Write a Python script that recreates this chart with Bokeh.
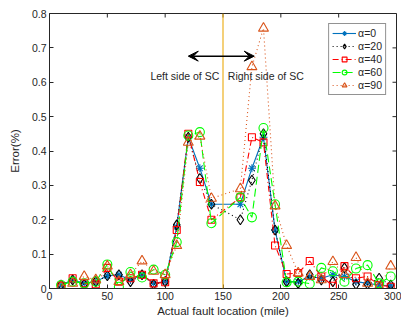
from bokeh.plotting import figure
from bokeh.models import (FixedTicker, Span, Arrow, VeeHead, Label,
                          Legend, LegendItem, Range1d)
from bokeh.embed import file_html
from bokeh.resources import INLINE

x = [10, 20, 30, 40, 50, 60, 70, 80, 90, 100, 110, 120, 130, 140,
     165, 175, 185, 195, 205, 215, 225, 235, 245, 255, 265, 275, 285, 295]

a0 = [0.010, 0.025, 0.015, 0.020, 0.037, 0.040, 0.025, 0.040, 0.015, 0.020, 0.180, 0.440, 0.350, 0.245,
      0.245, 0.350, 0.440, 0.170, 0.020, 0.020, 0.035, 0.030, 0.040, 0.035, 0.020, 0.015, 0.010, 0.008]
a20 = [0.010, 0.025, 0.012, 0.020, 0.037, 0.040, 0.020, 0.040, 0.012, 0.020, 0.185, 0.440, 0.320, 0.245,
       0.200, 0.315, 0.450, 0.170, 0.020, 0.015, 0.040, 0.025, 0.020, 0.060, 0.012, 0.012, 0.030, 0.010]
a40 = [0.008, 0.030, 0.015, 0.012, 0.060, 0.020, 0.030, 0.040, 0.015, 0.018, 0.170, 0.450, 0.310, 0.200,
       0.265, 0.440, 0.425, 0.125, 0.042, 0.045, 0.080, 0.035, 0.008, 0.065, 0.030, 0.035, 0.010, 0.005]
a60 = [0.010, 0.020, 0.015, 0.020, 0.070, 0.005, 0.048, 0.032, 0.055, 0.040, 0.135, 0.445, 0.455, 0.190,
       0.265, 0.207, 0.467, 0.245, 0.018, 0.020, 0.014, 0.060, 0.050, 0.020, 0.058, 0.068, 0.015, 0.035]
a90 = [0.005, 0.015, 0.035, 0.025, 0.065, 0.020, 0.040, 0.080, 0.050, 0.040, 0.125, 0.425, 0.443, 0.262,
       0.290, 0.645, 0.757, 0.240, 0.125, 0.045, 0.035, 0.025, 0.078, 0.040, 0.090, 0.015, 0.005, 0.065]

labels = ["α=0", "α=20", "α=40", "α=60", "α=90"]
xticks = [0, 50, 100, 150, 200, 250, 300]
yticks = [0, 0.1, 0.2, 0.3, 0.4, 0.5, 0.6, 0.7, 0.8]
ytick_labels = ["0", "0.1", "0.2", "0.3", "0.4", "0.5", "0.6", "0.7", "0.8"]

FONT = "Liberation Sans"
AX = "#262626"
XMIN, XMAX, YMIN, YMAX = 0, 300, 0, 0.8
FW, FH = 347, 275

p = figure(frame_width=FW, frame_height=FH, output_backend="svg", toolbar_location=None,
           x_range=Range1d(XMIN, XMAX), y_range=Range1d(YMIN, YMAX),
           min_border_left=49, min_border_right=5, min_border_top=13, min_border_bottom=30)
p.xgrid.visible = False
p.ygrid.visible = False
p.outline_line_color = AX
p.outline_line_width = 1

for ax in (p.xaxis[0], p.yaxis[0]):
    ax.major_tick_in = 4
    ax.major_tick_out = 0
    ax.minor_tick_in = 0
    ax.minor_tick_out = 0
    ax.axis_line_color = AX
    ax.major_tick_line_color = AX
    ax.major_label_text_font = FONT
    ax.major_label_text_font_size = "10.5px"
    ax.major_label_text_color = AX
    ax.axis_label_text_font = FONT
    ax.axis_label_text_font_size = "11.5px"
    ax.axis_label_text_font_style = "normal"
    ax.axis_label_text_color = AX
    ax.major_label_standoff = 3

p.xaxis[0].ticker = FixedTicker(ticks=xticks)
p.yaxis[0].ticker = FixedTicker(ticks=yticks)
p.yaxis[0].major_label_overrides = {v: s for v, s in zip(yticks, ytick_labels)}
p.xaxis[0].axis_label = "Actual fault location (mile)"
p.yaxis[0].axis_label = "Error(%)"
p.xaxis[0].axis_label_standoff = 2
p.yaxis[0].axis_label_standoff = 8

# inward ticks on the top and right edges of the box
tick_dy = (YMAX - YMIN) * 4 / FH
tick_dx = (XMAX - XMIN) * 4 / FW
p.segment(x0=xticks, y0=[YMAX] * len(xticks), x1=xticks, y1=[YMAX - tick_dy] * len(xticks),
          line_color=AX, line_width=1)
p.segment(x0=[XMAX] * len(yticks), y0=yticks, x1=[XMAX - tick_dx] * len(yticks), y1=yticks,
          line_color=AX, line_width=1)

# vertical line for SC
p.add_layout(Span(location=150, dimension="height", line_color="#EDB120", line_width=1.2))

series = [
    (a0, "#0072BD", "solid", "asterisk", 8),
    (a20, "black", "1 3", "diamond", 10),
    (a40, "#FF0000", "6 3 1 3", "square", 7),
    (a60, "#00FF00", "8 4", "circle", 9),
    (a90, "#D95319", "1 3", "triangle", 10),
]

items = []
for (ys, col, dash, mk, sz), lab in zip(series, labels):
    ln = p.line(x, ys, line_color=col, line_width=1.1, line_dash=dash)
    sc = p.scatter(x, ys, marker=mk, size=sz, line_color=col, fill_color=None, line_width=1.1)
    items.append(LegendItem(label=lab, renderers=[ln, sc]))

legend = Legend(items=items, location="top_right", label_text_font=FONT,
                label_text_font_size="10.5px", label_text_color=AX,
                glyph_width=24, glyph_height=12, label_height=12, label_standoff=2,
                spacing=1, padding=3, margin=10,
                border_line_color=AX, border_line_width=1, background_fill_alpha=1)
p.add_layout(legend)

# double arrow
p.add_layout(Arrow(start=VeeHead(size=10, fill_color="black", line_color="black"),
                   end=VeeHead(size=10, fill_color="black", line_color="black"),
                   x_start=120, y_start=0.676, x_end=177, y_end=0.676,
                   line_color="black", line_width=1.5))

p.add_layout(Label(x=117, y=0.617, text="Left side of SC", text_align="center",
                   text_baseline="middle", text_font=FONT, text_font_size="10.5px",
                   text_color=AX))
p.add_layout(Label(x=187, y=0.617, text="Right side of SC", text_align="center",
                   text_baseline="middle", text_font=FONT, text_font_size="10.5px",
                   text_color=AX))

open("out.html", "w").write(file_html(p, INLINE))
